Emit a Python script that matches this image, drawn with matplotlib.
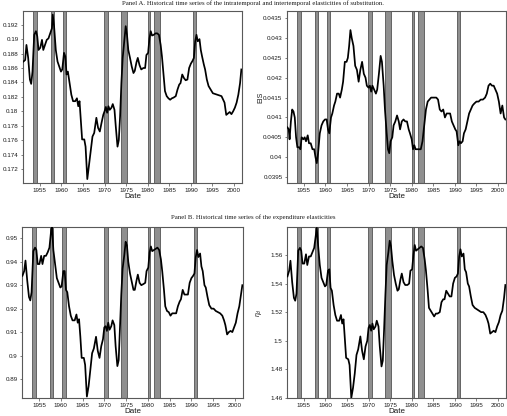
import numpy as np
import matplotlib
matplotlib.use("Agg")
import matplotlib.pyplot as plt
from matplotlib.ticker import FuncFormatter, MultipleLocator

plt.rcParams["font.family"] = ["Liberation Sans", "DejaVu Sans"]
plt.rcParams["mathtext.fontset"] = "custom"
plt.rcParams["mathtext.it"] = "Liberation Sans:italic"
plt.rcParams["mathtext.rm"] = "Liberation Sans"

# quarterly-ish sample dates
anos = [1951.2, 1951.6, 1951.9, 1952.3, 1952.7, 1953.0, 1953.3, 1953.7, 1954.1, 1954.4,
        1954.7, 1955.1, 1955.5, 1955.8, 1956.2, 1956.6, 1957.0, 1957.4, 1957.8, 1958.0,
        1958.3, 1958.7, 1959.1, 1959.5, 1959.9, 1960.2, 1960.6, 1960.9, 1961.2, 1961.5,
        1961.9, 1962.3, 1962.7, 1963.2, 1963.6, 1963.9, 1964.2, 1964.5, 1964.8, 1965.3,
        1965.6, 1966.0, 1966.4, 1966.8, 1967.2, 1967.6, 1968.1, 1968.5, 1968.9, 1969.3,
        1969.7, 1970.0, 1970.3, 1970.6, 1970.9, 1971.2, 1971.6, 1971.9, 1972.3, 1972.6,
        1973.0, 1973.3, 1973.6, 1973.9, 1974.2, 1974.6, 1974.9, 1975.2, 1975.5, 1975.9,
        1976.3, 1976.7, 1977.0, 1977.4, 1977.7, 1978.1, 1978.5, 1979.0, 1979.4, 1979.7,
        1980.1, 1980.4, 1980.7, 1981.0, 1981.4, 1981.8, 1982.2, 1982.6, 1983.0, 1983.3,
        1983.7, 1984.0, 1984.4, 1984.8, 1985.2, 1985.6, 1986.0, 1986.5, 1986.9, 1987.3,
        1987.6, 1988.0, 1988.4, 1988.8, 1989.2, 1989.6, 1990.0, 1990.4, 1990.7, 1991.0,
        1991.3, 1991.6, 1992.0, 1992.3, 1992.6, 1993.0, 1993.3, 1993.7, 1994.1, 1994.6,
        1995.1, 1995.6, 1996.1, 1996.6, 1997.1, 1997.5, 1997.8, 1998.2, 1998.6, 1999.0,
        1999.4, 1999.8, 2000.2, 2000.6, 2001.0, 2001.4, 2001.7]

intra_es = [0.1869, 0.1871, 0.1892, 0.1874, 0.1844, 0.1838, 0.1855, 0.1906, 0.1911, 0.1904,
            0.1885, 0.1888, 0.1899, 0.1885, 0.1892, 0.1899, 0.1901, 0.1908, 0.1915, 0.1934,
            0.1918, 0.1885, 0.1869, 0.1862, 0.1855, 0.1858, 0.1881, 0.1876, 0.1851, 0.1855,
            0.1839, 0.1823, 0.1814, 0.1814, 0.1818, 0.1807, 0.1814, 0.1788, 0.1761, 0.1761,
            0.1751, 0.1706, 0.1726, 0.1747, 0.1765, 0.1770, 0.1791, 0.1777, 0.1772, 0.1784,
            0.1795, 0.1800, 0.1806, 0.1798, 0.1807, 0.1802, 0.1805, 0.1810, 0.1802, 0.1779,
            0.1751, 0.1760, 0.1793, 0.1839, 0.1874, 0.1899, 0.1918, 0.1906, 0.1885, 0.1874,
            0.1862, 0.1853, 0.1856, 0.1868, 0.1874, 0.1864, 0.1858, 0.1860, 0.1860, 0.1878,
            0.1881, 0.1901, 0.1911, 0.1905, 0.1906, 0.1908, 0.1908, 0.1906, 0.1892, 0.1876,
            0.1848, 0.1828, 0.1821, 0.1818, 0.1816, 0.1818, 0.1819, 0.1821, 0.1830, 0.1837,
            0.1839, 0.1851, 0.1846, 0.1843, 0.1844, 0.1860, 0.1866, 0.1870, 0.1874, 0.1897,
            0.1906, 0.1897, 0.1900, 0.1885, 0.1876, 0.1865, 0.1858, 0.1844, 0.1835, 0.1830,
            0.1825, 0.1824, 0.1823, 0.1822, 0.1821, 0.1816, 0.1812, 0.1795, 0.1797, 0.1799,
            0.1796, 0.1800, 0.1805, 0.1812, 0.1823, 0.1839, 0.1858]

eta_c = [0.9340, 0.9360, 0.9405, 0.9320, 0.9250, 0.9235, 0.9270, 0.9445, 0.9460, 0.9450,
         0.9390, 0.9390, 0.9425, 0.9390, 0.9425, 0.9425, 0.9440, 0.9460, 0.9535, 0.9550,
         0.9450, 0.9390, 0.9330, 0.9310, 0.9290, 0.9295, 0.9360, 0.9360, 0.9280, 0.9270,
         0.9210, 0.9170, 0.9150, 0.9150, 0.9175, 0.9140, 0.9155, 0.9080, 0.8990, 0.8990,
         0.8960, 0.8825, 0.8870, 0.8940, 0.9010, 0.9030, 0.9080, 0.9020, 0.8990, 0.9040,
         0.9070, 0.9120, 0.9125, 0.9105, 0.9140, 0.9110, 0.9125, 0.9150, 0.9130, 0.9040,
         0.8955, 0.8980, 0.9120, 0.9260, 0.9370, 0.9430, 0.9485, 0.9470, 0.9400, 0.9350,
         0.9315, 0.9280, 0.9280, 0.9320, 0.9345, 0.9310, 0.9300, 0.9305, 0.9310, 0.9360,
         0.9375, 0.9440, 0.9465, 0.9445, 0.9450, 0.9455, 0.9460, 0.9450, 0.9410, 0.9360,
         0.9280, 0.9210, 0.9190, 0.9185, 0.9170, 0.9180, 0.9180, 0.9180, 0.9210, 0.9230,
         0.9240, 0.9280, 0.9260, 0.9260, 0.9260, 0.9310, 0.9330, 0.9340, 0.9350, 0.9420,
         0.9450, 0.9420, 0.9435, 0.9380, 0.9360, 0.9300, 0.9290, 0.9250, 0.9215, 0.9200,
         0.9200, 0.9190, 0.9185, 0.9180, 0.9170, 0.9150, 0.9130, 0.9090, 0.9100, 0.9105,
         0.9100, 0.9120, 0.9140, 0.9180, 0.9210, 0.9260, 0.9300]

eta_d = [1.545, 1.549, 1.556, 1.541, 1.530, 1.528, 1.533, 1.563, 1.565, 1.563,
         1.554, 1.554, 1.5605, 1.553, 1.559, 1.559, 1.562, 1.565, 1.574, 1.579,
         1.567, 1.553, 1.544, 1.541, 1.538, 1.539, 1.549, 1.550, 1.537, 1.535,
         1.525, 1.518, 1.514, 1.514, 1.518, 1.512, 1.515, 1.502, 1.488, 1.487,
         1.483, 1.460, 1.467, 1.477, 1.490, 1.494, 1.503, 1.493, 1.487, 1.496,
         1.500, 1.509, 1.511, 1.507, 1.512, 1.508, 1.510, 1.514, 1.510, 1.496,
         1.482, 1.486, 1.508, 1.532, 1.553, 1.562, 1.570, 1.566, 1.556, 1.546,
         1.540, 1.535, 1.536, 1.543, 1.547, 1.541, 1.539, 1.539, 1.540, 1.549,
         1.550, 1.560, 1.567, 1.563, 1.564, 1.565, 1.566, 1.565, 1.557, 1.549,
         1.535, 1.523, 1.521, 1.519, 1.517, 1.519, 1.519, 1.520, 1.527, 1.529,
         1.529, 1.535, 1.533, 1.531, 1.531, 1.540, 1.544, 1.545, 1.547, 1.559,
         1.564, 1.559, 1.561, 1.550, 1.548, 1.540, 1.538, 1.531, 1.525, 1.523,
         1.522, 1.521, 1.520, 1.520, 1.518, 1.515, 1.512, 1.505, 1.506, 1.507,
         1.506, 1.510, 1.513, 1.518, 1.521, 1.530, 1.539]

anos_eis = [1951.2, 1951.5, 1951.7, 1952.0, 1952.3, 1952.6, 1952.9, 1953.2, 1953.5, 1953.9,
            1954.2, 1954.5, 1954.9, 1955.2, 1955.5, 1955.9, 1956.2, 1956.6, 1957.0, 1957.4,
            1957.7, 1958.0, 1958.3, 1958.7, 1959.1, 1959.5, 1959.9, 1960.3, 1960.6, 1960.9,
            1961.3, 1961.6, 1962.0, 1962.3, 1962.7, 1963.1, 1963.4, 1963.8, 1964.1, 1964.5,
            1964.9, 1965.2, 1965.5, 1965.8, 1966.1, 1966.5, 1966.9, 1967.3, 1967.7, 1968.1,
            1968.5, 1968.9, 1969.3, 1969.6, 1970.0, 1970.3, 1970.6, 1970.9, 1971.3, 1971.7,
            1972.0, 1972.4, 1972.8, 1973.1, 1973.5, 1973.8, 1974.2, 1974.5, 1974.8, 1975.1,
            1975.5, 1975.8, 1976.2, 1976.6, 1977.0, 1977.3, 1977.7, 1978.1, 1978.5, 1978.9,
            1979.3, 1979.6, 1980.0, 1980.3, 1980.6, 1980.9, 1981.3, 1981.7, 1982.1, 1982.5,
            1982.9, 1983.3, 1983.7, 1984.1, 1984.5, 1984.9, 1985.3, 1985.7, 1986.1, 1986.5,
            1986.9, 1987.3, 1987.7, 1988.1, 1988.5, 1988.9, 1989.3, 1989.7, 1990.1, 1990.4,
            1990.8, 1991.1, 1991.4, 1991.8, 1992.1, 1992.5, 1992.9, 1993.3, 1993.7, 1994.1,
            1994.5, 1995.0, 1995.5, 1996.0, 1996.5, 1997.0, 1997.4, 1997.8, 1998.2, 1998.6,
            1999.0, 1999.4, 1999.8, 2000.2, 2000.6, 2001.0, 2001.4, 2001.7]

eis = [0.04075, 0.04070, 0.04045, 0.04090, 0.04120, 0.04115, 0.04100, 0.04050, 0.04025, 0.04025,
       0.04020, 0.04050, 0.04045, 0.04050, 0.04040, 0.04055, 0.04035, 0.04035, 0.04020, 0.04020,
       0.04000, 0.03985, 0.04010, 0.04060, 0.04080, 0.04090, 0.04095, 0.04095, 0.04070, 0.04060,
       0.04100, 0.04110, 0.04130, 0.04140, 0.04160, 0.04160, 0.04150, 0.04170, 0.04190, 0.04240,
       0.04240, 0.04250, 0.04280, 0.04320, 0.04300, 0.04280, 0.04230, 0.04220, 0.04190, 0.04220,
       0.04240, 0.04210, 0.04200, 0.04180, 0.04175, 0.04180, 0.04165, 0.04180, 0.04170, 0.04160,
       0.04170, 0.04210, 0.04255, 0.04240, 0.04180, 0.04120, 0.04060, 0.04020, 0.04010, 0.04040,
       0.04050, 0.04080, 0.04090, 0.04105, 0.04090, 0.04070, 0.04090, 0.04095, 0.04090, 0.04090,
       0.04070, 0.04060, 0.04045, 0.04020, 0.04030, 0.04020, 0.04020, 0.04020, 0.04020, 0.04040,
       0.04080, 0.04120, 0.04140, 0.04145, 0.04150, 0.04150, 0.04150, 0.04150, 0.04145, 0.04120,
       0.04115, 0.04120, 0.04100, 0.04110, 0.04110, 0.04110, 0.04090, 0.04080, 0.04070, 0.04065,
       0.04030, 0.04040, 0.04035, 0.04040, 0.04060, 0.04070, 0.04090, 0.04110, 0.04120, 0.04130,
       0.04135, 0.04140, 0.04140, 0.04145, 0.04145, 0.04150, 0.04160, 0.04180, 0.04185, 0.04180,
       0.04180, 0.04170, 0.04160, 0.04140, 0.04110, 0.04130, 0.04100, 0.04095]

# NBER recessions
rec_inicio = [1953.5, 1957.6, 1960.3, 1969.9, 1973.85, 1980.0, 1981.5, 1990.5]
rec_fim = [1954.35, 1958.3, 1961.1, 1970.85, 1975.2, 1980.5, 1982.85, 1991.2]

anos_ticks = [1955, 1960, 1965, 1970, 1975, 1980, 1985, 1990, 1995, 2000]

W, H = 507, 416
fig = plt.figure(figsize=(W / 100, H / 100), dpi=100)


def caixa(l, r, t, b):
    return [l / W, 1 - b / H, (r - l) / W, (b - t) / H]


def fmt(v, pos):
    return "{:g}".format(round(v, 6))


def painel(rect, x, y, ylim, passo, rotulo, lab_x):
    ax = fig.add_axes(rect)
    for a, b in zip(rec_inicio, rec_fim):
        ax.axvspan(a, b, facecolor="0.56", edgecolor="0.33", lw=0.6, zorder=1)
    ax.plot(x, y, color="k", lw=1.25, zorder=3)
    ax.set_xlim(1951.1, 2001.85)
    ax.set_ylim(*ylim)
    ax.set_xticks(anos_ticks)
    ax.yaxis.set_major_locator(MultipleLocator(passo))
    ax.yaxis.set_major_formatter(FuncFormatter(fmt))
    ax.tick_params(labelsize=4.5, length=1.8, width=0.5, pad=1.5, colors="0.3",
                   labelcolor="0.1")
    for s in ax.spines.values():
        s.set_linewidth(0.8)
        s.set_color("0.35")
    ax.set_xlabel("Date", fontsize=5.8, labelpad=0.6, color="0.1")
    ax.set_ylabel(rotulo, fontsize=5, color="0.1")
    ax.yaxis.set_label_coords(lab_x, 0.5)
    return ax


painel(caixa(23, 242, 11, 183), anos, intra_es, (0.17006, 0.1939), 0.002,
       "Intratemporal ES", -0.1)
painel(caixa(287, 506, 11, 183), anos_eis, eis, (0.03935, 0.04368), 0.0005,
       "EIS", -0.105)
painel(caixa(22, 243, 227, 398), anos, eta_c, (0.8819, 0.9548), 0.01,
       r"$\eta_c$", -0.09)
painel(caixa(287, 506, 227, 398), anos, eta_d, (1.4599, 1.5796), 0.02,
       r"$\eta_d$", -0.105)

fig.text(253 / W, 1 - 3.5 / H,
         "Panel A. Historical time series of the intratemporal and intertemporal elasticities of substitution.",
         ha="center", va="center", fontsize=4.9, family="Liberation Serif", color="0.1")
fig.text(253 / W, 1 - 217 / H,
         "Panel B. Historical time series of the expenditure elasticities",
         ha="center", va="center", fontsize=4.9, family="Liberation Serif", color="0.1")

fig.savefig("out.png", dpi=100)
